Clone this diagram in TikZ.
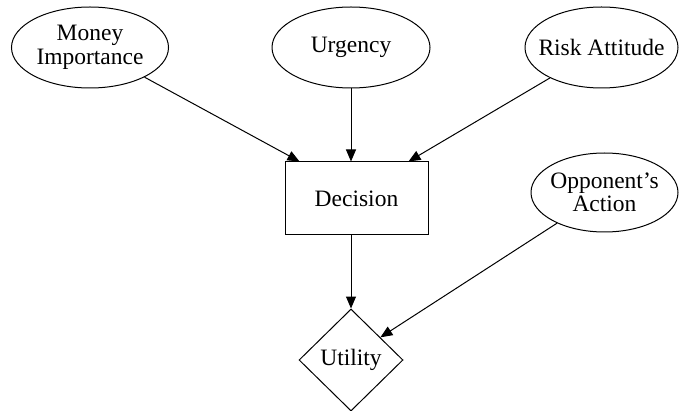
\documentclass[tikz,border=0pt]{standalone}
\usepackage{fontspec}
\setmainfont{Liberation Serif}
\usetikzlibrary{shapes.geometric,arrows.meta,calc}
\begin{document}
\begin{tikzpicture}[x=1pt,y=1pt,
  every node/.style={font=\fontsize{23.5}{23.5}\selectfont},
  chance/.style={draw, line width=1pt, ellipse, inner xsep=-10pt, inner ysep=-6pt, minimum height=81pt, align=center},
  decbox/.style={draw, line width=1pt, rectangle, minimum width=143pt, minimum height=73pt, inner sep=0pt},
  utilbox/.style={draw, line width=1pt, diamond, minimum width=104pt, minimum height=102pt, inner sep=0pt},
  edge/.style={line width=1pt, -{Triangle[length=12pt,width=10pt]}}]
\useasboundingbox (0,0) rectangle (680,410);
\node[chance, minimum width=157pt] (mi) at (90,362.5) {Money\\Importance};
\node[chance, minimum width=158pt] (urg) at (351,362.5) {Urgency};
\node[chance, minimum width=153pt] (risk) at (601.5,362.5) {Risk Attitude};
\node[chance, minimum width=147pt, minimum height=79pt] (opp) at (604.5,217.5) {Opponent's\\Action};
\node[decbox] (dec) at (356.5,211.5) {Decision};
\node[utilbox] (util) at (351,50) {Utility};
\coordinate (dmi) at ([xshift=15pt]dec.north west);
\coordinate (drisk) at ([xshift=-20pt]dec.north east);
\coordinate (uopp) at ($(util.north)!0.56!(util.east)$);
\draw[edge] (mi) -- (dmi);
\draw[edge] (urg.south) -- (urg.south |- dec.north);
\draw[edge] (risk) -- (drisk);
\draw[edge] (util.north |- dec.south) -- (util.north);
\draw[edge] (opp) -- (uopp);
\end{tikzpicture}
\end{document}
